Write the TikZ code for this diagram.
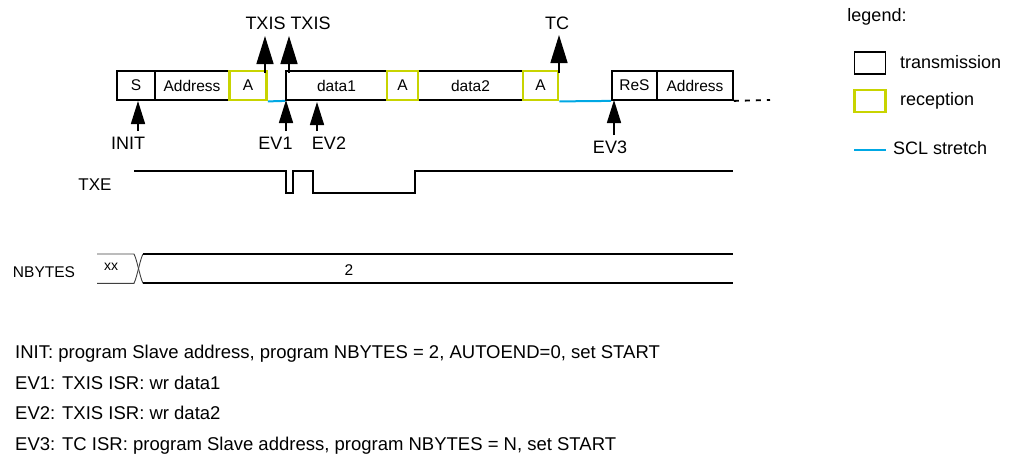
\documentclass[tikz,border=0pt]{standalone}
\usepackage{fontspec}
\setmainfont{Liberation Sans}
\usetikzlibrary{arrows.meta}
\definecolor{recgreen}{RGB}{200,212,0}
\definecolor{sclblue}{RGB}{0,168,228}
\begin{document}
\begin{tikzpicture}[x=1pt,y=-1pt,
  lbl/.style={font=\fontsize{18}{21}\selectfont,inner sep=0pt},
  note/.style={font=\fontsize{18.5}{21}\selectfont,inner sep=0pt,anchor=base west},
  fld/.style={draw=black,line width=1.8pt,minimum height=29pt,inner sep=0pt,font=\fontsize{15.5}{18}\selectfont},
  rcv/.style={fld,draw=recgreen,line width=2.8pt},
  sig/.style={line width=1.8pt,line join=miter},
  scl/.style={draw=sclblue,line width=2pt},
  bigarrow/.style={line width=1.6pt,-{Triangle[length=28pt,width=17pt]}},
  smallarrow/.style={line width=1.6pt,-{Triangle[length=23pt,width=14pt]}}]
\useasboundingbox (0,0) rectangle (1016,459);

% ---- frame
\node[fld,minimum width=38pt] (S) at (136,85.5) {S};
\node[fld,minimum width=74pt] (Addr) at (192,85.5) {Address};
\node[fld,minimum width=101pt] (D1) at (336.5,85.5) {data1};
\node[fld,minimum width=105pt] (D2) at (470.5,85.5) {data2};
\node[fld,minimum width=45pt] (ReS) at (634.5,85.5) {ReS};
\node[fld,minimum width=76pt] (Addr2) at (695,85.5) {Address};
\node[rcv,minimum width=37pt] (A1) at (248,85.5) {A};
\node[rcv,minimum width=31pt] (A2) at (402.5,85.5) {A};
\node[rcv,minimum width=35pt] (A3) at (540.5,85.5) {A};

\draw[scl] (A1.south east) -- (D1.south west);
\draw[scl] (A3.south east) -- (ReS.south west);
\coordinate (dashend) at (770,100);
\draw[line width=1.8pt,dash pattern=on 5pt off 6pt] (Addr2.south east) -- (dashend);

% ---- top arrows
\node[lbl,anchor=base] (txis1) at (265.5,29.2) {TXIS};
\node[lbl,anchor=base] (txis2) at (310.5,29.2) {TXIS};
\node[lbl,anchor=base] (tc) at (557,29.2) {TC};
\coordinate (t1a) at (265,73);
\coordinate (t1b) at (265,36);
\coordinate (t2a) at (289,73);
\coordinate (t2b) at (289,36);
\coordinate (tca) at (559,73);
\coordinate (tcb) at (559,35);
\draw[bigarrow] (t1a) -- (t1b);
\draw[bigarrow] (t2a) -- (t2b);
\draw[bigarrow] (tca) -- (tcb);

% ---- bottom arrows
\node[lbl,anchor=base] (init) at (128,149.7) {INIT};
\node[lbl,anchor=base] (ev1) at (275.5,149.7) {EV1};
\node[lbl,anchor=base] (ev2) at (329,149.7) {EV2};
\node[lbl,anchor=base] (ev3) at (610,153) {EV3};
\coordinate (ia) at (138,131); \coordinate (ib) at (138,101);
\coordinate (e1a) at (286,131); \coordinate (e1b) at (286,100);
\coordinate (e2a) at (317,131); \coordinate (e2b) at (317,102);
\coordinate (e3a) at (614,135); \coordinate (e3b) at (614,100);
\draw[smallarrow] (ia) -- (ib);
\draw[smallarrow] (e1a) -- (e1b);
\draw[smallarrow] (e2a) -- (e2b);
\draw[smallarrow] (e3a) -- (e3b);

% ---- TXE
\node[font=\fontsize{17}{20}\selectfont,inner sep=0pt,anchor=base] (txe) at (95,190.2) {TXE};
\draw[sig] (134,171) -- (286,171) -- (286,193) -- (293,193) -- (293,171)
  -- (313,171) -- (313,193) -- (415,193) -- (415,171) -- (733,171);

% ---- NBYTES
\node[font=\fontsize{15.5}{18}\selectfont,inner sep=0pt,anchor=base] (nb) at (44,277.2) {NBYTES};
\draw[line width=0.9pt,black!75] (97,254) -- (134,254) .. controls (136,258) and (137,263) .. (138.5,268.6)
  .. controls (140,274) and (141,279) .. (143,283.3);
\draw[line width=0.9pt,black!75] (97,283.3) -- (134,283.3) .. controls (136,279) and (137,274) .. (138.5,268.6)
  .. controls (140,263) and (141,258) .. (143,254);
\draw[line width=1.8pt] (143,254) -- (733,254);
\draw[line width=1.8pt] (143,283.3) -- (733,283.3);
\node[font=\fontsize{14}{16}\selectfont,inner sep=0pt,anchor=base] (xx) at (111,270.5) {xx};
\node[font=\fontsize{15.5}{18}\selectfont,inner sep=0pt,anchor=base] (two) at (349,275.5) {2};

% ---- legend
\node[lbl,anchor=base] (leg) at (877,21.7) {legend:};
\node[draw=black,line width=1.8pt,minimum width=31pt,minimum height=22pt,inner sep=0pt] (lt) at (870,63) {};
\node[draw=recgreen,line width=2.8pt,minimum width=31pt,minimum height=22pt,inner sep=0pt] (lr) at (870,101) {};
\node[lbl,anchor=base west] (ltt) at (900,68.3) {transmission};
\node[lbl,anchor=base west] (lrt) at (900,105) {reception};
\coordinate (lba) at (854,150); \coordinate (lbb) at (886,150);
\draw[scl] (lba) -- (lbb);
\node[lbl,anchor=base west] (lbt) at (893,154) {SCL stretch};

% ---- notes
\node[note] (n1) at (15,358.5) {INIT: program Slave address, program NBYTES = 2, AUTOEND=0, set START};
\node[note] (n2) at (15,389) {EV1: TXIS ISR: wr data1};
\node[note] (n3) at (15,419.5) {EV2: TXIS ISR: wr data2};
\node[note] (n4) at (15,450) {EV3: TC ISR: program Slave address, program NBYTES = N, set START};
\end{tikzpicture}
\end{document}
